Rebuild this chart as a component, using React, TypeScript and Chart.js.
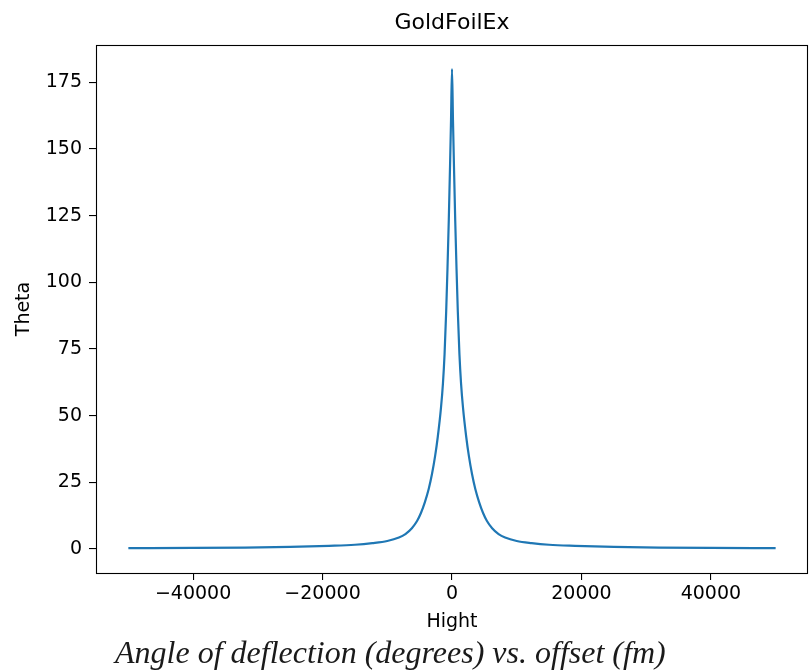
import React, { useEffect, useRef } from "react";
import { Chart, registerables } from "chart.js";

Chart.register(...registerables);

// ---- data ----
const hightValues = [
  -50000, -40000, -32000, -25000, -19000, -15000, -12300, -10000, -8200, -7200,
  -6200, -5400, -4800, -4200, -3600, -3100, -2600, -2200, -1700, -1400,
  -1150, -900, -700, -500, -300, -150, 0,
  150, 300, 500, 700, 900, 1150, 1400, 1700, 2200,
  2600, 3100, 3600, 4200, 4800, 5400, 6200, 7200, 8200, 10000,
  12300, 15000, 19000, 25000, 32000, 40000, 50000,
];
const thetaValues = [
  0.3, 0.4, 0.55, 0.8, 1.2, 1.6, 2.2, 3, 4.3, 5.6,
  7.8, 10.5, 13.5, 17.5, 22.5, 28, 35, 42, 53, 62,
  73, 89, 105, 123, 144, 161, 180,
  161, 144, 123, 105, 89, 73, 62, 53, 42,
  35, 28, 22.5, 17.5, 13.5, 10.5, 7.8, 5.6, 4.3, 3,
  2.2, 1.6, 1.2, 0.8, 0.55, 0.4, 0.3,
];
const xTickValues = [-40000, -20000, 0, 20000, 40000];
const yTickValues = [0, 25, 50, 75, 100, 125, 150, 175];
const xRange = [-55000, 55000];
const yRange = [-9, 189];
const chartTitle = "GoldFoilEx";
const xLabel = "Hight";
const yLabel = "Theta";
const caption = "Angle of deflection (degrees) vs. offset (fm)";

const FONT = "'DejaVu Sans', sans-serif";

const framePlugin = {
  id: "frame",
  afterDraw(chart: any) {
    const { ctx, chartArea: a } = chart;
    ctx.save();
    ctx.strokeStyle = "#000";
    ctx.lineWidth = 1.1;
    ctx.strokeRect(
      Math.round(a.left) + 0.5,
      Math.round(a.top) + 0.5,
      Math.round(a.right - a.left) - 1,
      Math.round(a.bottom - a.top)
    );
    ctx.restore();
  },
};

const fmt = (v: number) => (v < 0 ? "\u2212" + Math.abs(v) : String(v));

export default function App() {
  const ref = useRef<HTMLCanvasElement | null>(null);

  useEffect(() => {
    document.body.style.margin = "0";
    const canvas = ref.current;
    if (!canvas) return;
    const chart = new Chart(canvas, {
      type: "line",
      data: {
        datasets: [
          {
            data: hightValues.map((x, i) => ({ x, y: thetaValues[i] })),
            borderColor: "#1f77b4",
            backgroundColor: "#1f77b4",
            borderWidth: 2.2,
            pointRadius: 0,
            fill: false,
            cubicInterpolationMode: "monotone",
          },
        ],
      },
      options: {
        responsive: false,
        animation: false,
        devicePixelRatio: 1,
        layout: { padding: { left: 0, right: 1, top: 0, bottom: 32 } },
        plugins: {
          legend: { display: false },
          tooltip: { enabled: false },
          title: {
            display: true,
            text: chartTitle,
            fullSize: false,
            color: "#000",
            font: { family: FONT, size: 22, weight: "normal" },
            padding: { top: 10, bottom: 8.6 },
          },
        },
        scales: {
          x: {
            type: "linear",
            min: xRange[0],
            max: xRange[1],
            afterBuildTicks: (s: any) => {
              s.ticks = xTickValues.map((v) => ({ value: v }));
            },
            afterFit: (s: any) => {
              s.height = 65;
            },
            grid: {
              drawOnChartArea: false,
              drawTicks: true,
              tickLength: 7,
              color: "#000",
              lineWidth: 1.1,
            },
            border: { display: false },
            ticks: {
              color: "#000",
              font: { family: FONT, size: 19 },
              padding: 3,
              maxRotation: 0,
              autoSkip: false,
              callback: (v: any) => fmt(Number(v)),
            },
            title: {
              display: true,
              text: xLabel,
              color: "#000",
              font: { family: FONT, size: 19 },
              padding: { top: 0, bottom: 4.6 },
            },
          },
          y: {
            type: "linear",
            min: yRange[0],
            max: yRange[1],
            afterBuildTicks: (s: any) => {
              s.ticks = yTickValues.map((v) => ({ value: v }));
            },
            afterFit: (s: any) => {
              s.width = 96;
            },
            grid: {
              drawOnChartArea: false,
              drawTicks: true,
              tickLength: 7,
              color: "#000",
              lineWidth: 1.1,
            },
            border: { display: false },
            ticks: {
              color: "#000",
              font: { family: FONT, size: 19 },
              padding: 7,
              autoSkip: false,
              callback: (v: any) => fmt(Number(v)),
            },
            title: {
              display: true,
              text: yLabel,
              color: "#000",
              font: { family: FONT, size: 19 },
              padding: { top: 13, bottom: 0 },
            },
          },
        },
      },
      plugins: [framePlugin],
    });
    return () => chart.destroy();
  }, []);

  return (
    <div style={{ position: "absolute", left: 0, top: 0, width: 809, height: 670, background: "#fff" }}>
      <canvas ref={ref} width={809} height={670} style={{ width: 809, height: 670, display: "block" }} />
      <div
        style={{
          position: "absolute",
          left: 115,
          top: 636,
          fontFamily: "'Liberation Serif', 'Times New Roman', serif",
          fontStyle: "italic",
          fontSize: 32,
          lineHeight: 1,
          color: "#1a1a1a",
          whiteSpace: "nowrap",
        }}
      >
        {caption}
      </div>
    </div>
  );
}
